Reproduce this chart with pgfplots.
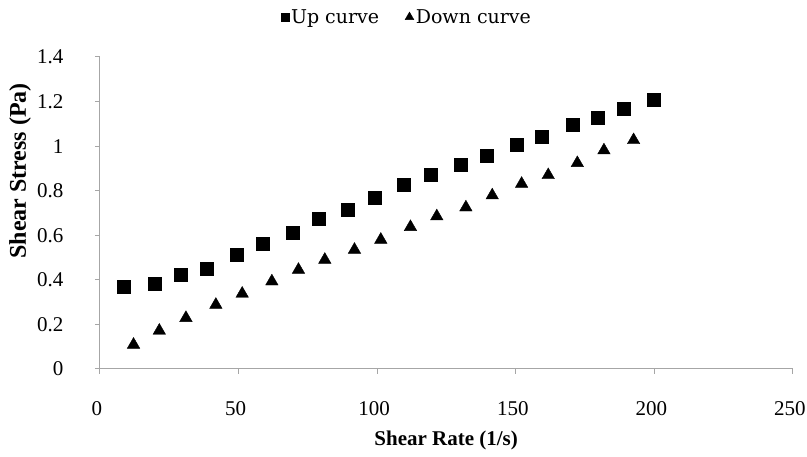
\documentclass[border=0pt]{standalone}
\usepackage{pgfplots}
\pgfplotsset{compat=1.18}
\usepackage{fontspec}
\setmainfont{Liberation Serif}
\newfontfamily\legfont{DejaVu Serif}
\begin{document}
\begin{tikzpicture}
\useasboundingbox (-100pt,-88pt) rectangle (707pt,369pt);
\begin{axis}[
  at={(0,0)}, anchor=south west,
  scale only axis, width=693pt, height=312pt,
  xmin=0, xmax=250, ymin=0, ymax=1.4,
  xtick={0,50,...,250}, ytick={0,0.2,...,1.4},
  axis lines*=left,
  axis line style={gray!70, line width=1pt},
  tick style={gray!70, line width=1pt},
  tick align=outside, major tick length=5pt,
  /pgf/number format/assume math mode=true,
  ticklabel style={font=\fontsize{21}{23}\selectfont},
  xticklabel style={yshift=-24pt, xshift=-3pt},
  yticklabel style={xshift=-28pt},
  xlabel={\textbf{Shear Rate (1/s)}},
  ylabel={\textbf{Shear Stress (Pa)}},
  xlabel style={font=\fontsize{21}{23}\selectfont, at={(axis description cs:0.4995,-0.2276)}, anchor=center},
  ylabel style={font=\fontsize{24}{26}\selectfont, at={(axis description cs:-0.1154,0.635)}, anchor=center},
  legend columns=2,
  legend style={draw=none, at={(0.443,1.128)}, anchor=center, font=\legfont\fontsize{19}{21}\selectfont, /tikz/every even column/.append style={column sep=24pt}},
  legend cell align=left,
]
\addlegendimage{only marks, mark=square*, mark size=4pt, black}
\addlegendentry{Up curve}
\addlegendimage{only marks, mark=triangle*, mark size=5pt, black}
\addlegendentry{Down curve}
\addplot[only marks, mark=square*, mark size=6.5pt, black, forget plot] coordinates {
(8.5,0.368) (19.6,0.383) (29.1,0.422) (38.5,0.449) (49.3,0.513) (58.7,0.562)
(69.5,0.610) (79.0,0.676) (89.4,0.715) (99.1,0.768) (109.5,0.825) (119.2,0.873)
(130.0,0.918) (139.5,0.958) (150.2,1.006) (159.3,1.042) (170.5,1.095) (179.5,1.127)
(189.0,1.166) (199.9,1.208)
};
\addplot[only marks, mark=triangle*, mark size=7.2pt, black, forget plot] coordinates {
(12.1,0.109) (21.4,0.172) (31.0,0.229) (41.8,0.288) (51.3,0.338) (62.0,0.393)
(71.6,0.445) (81.1,0.490) (91.8,0.535) (101.3,0.580) (112.0,0.637) (121.5,0.685)
(132.0,0.725) (141.5,0.779) (152.1,0.831) (161.7,0.870) (172.2,0.924) (181.8,0.981)
(192.5,1.027)
};
\end{axis}
\end{tikzpicture}
\end{document}
